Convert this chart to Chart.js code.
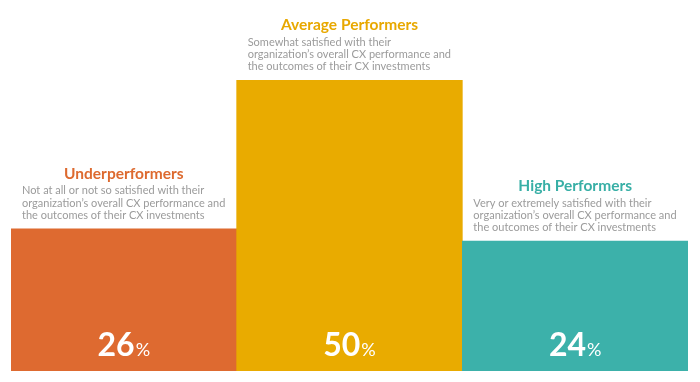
<!DOCTYPE html>
<html>
<head>
<meta charset="utf-8">
<script src="https://cdn.jsdelivr.net/npm/chart.js@4"></script>
<style>
  html, body { margin: 0; padding: 0; background: #ffffff; }
  #wrap { position: relative; width: 700px; height: 382px; }
</style>
</head>
<body>
<div id="wrap"><canvas id="c" width="700" height="382"></canvas></div>
<script>
const categories = ["Underperformers", "Average Performers", "High Performers"];
const values = [26, 50, 24];
const descriptions = [
  ["Not at all or not so satisfied with their", "organization\u2019s overall CX performance and", "the outcomes of their CX investments"],
  ["Somewhat satisfied with their", "organization\u2019s overall CX performance and", "the outcomes of their CX investments"],
  ["Very or extremely satisfied with their", "organization\u2019s overall CX performance and", "the outcomes of their CX investments"]
];
const colors = ["#DE6A30", "#E9AB00", "#3CB1AA"];
const titleColors = ["#DD6A2F", "#E8A800", "#38AFA6"];
const yMin = 3;
const yMax = 63;

const labelPlugin = {
  id: 'labels',
  afterDatasetsDraw(chart) {
    const ctx = chart.ctx;
    const meta = chart.getDatasetMeta(0);
    const bottom = chart.chartArea.bottom;
    meta.data.forEach((bar, i) => {
      const left = bar.x - bar.width / 2;
      const top = bar.y;
      ctx.save();
      ctx.textBaseline = "alphabetic";
      // title
      ctx.font = "bold 15.5px Lato";
      ctx.fillStyle = titleColors[i];
      ctx.textAlign = "center";
      ctx.fillText(categories[i], bar.x, top - 50);
      // description
      ctx.font = "11px Lato";
      ctx.fillStyle = "#9b9b9b";
      ctx.textAlign = "left";
      const lines = descriptions[i];
      lines.forEach((ln, k) => {
        ctx.fillText(ln, left + 11, top - 10 - (lines.length - 1 - k) * 12.2);
      });
      // percentage
      const num = String(values[i]);
      ctx.font = "bold 32px Lato";
      const wNum = ctx.measureText(num).width;
      ctx.font = "18px Lato";
      const wPct = ctx.measureText("%").width;
      const start = bar.x - (wNum + wPct + 1) / 2;
      ctx.fillStyle = "#ffffff";
      ctx.font = "bold 32px Lato";
      ctx.fillText(num, start, bottom - 15);
      ctx.font = "18px Lato";
      ctx.fillText("%", start + wNum + 1, bottom - 15);
      ctx.restore();
    });
  }
};

new Chart(document.getElementById('c'), {
  type: 'bar',
  data: {
    labels: categories,
    datasets: [{
      data: values,
      base: yMin,
      backgroundColor: colors,
      borderWidth: 0,
      barPercentage: 1,
      categoryPercentage: 1
    }]
  },
  options: {
    responsive: false,
    animation: false,
    layout: { padding: { left: 11, right: 12, top: 0, bottom: 11 } },
    plugins: { legend: { display: false }, tooltip: { enabled: false } },
    scales: {
      x: { display: false },
      y: { display: false, min: yMin, max: yMax }
    }
  },
  plugins: [labelPlugin]
});
</script>
</body>
</html>
